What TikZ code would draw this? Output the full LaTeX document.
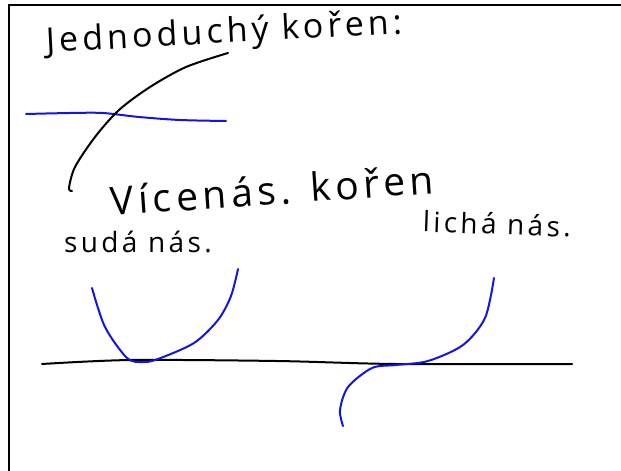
\documentclass[tikz,border=0pt]{standalone}
\usepackage{fontspec}
\setmainfont{Open Sans}
\usepackage{tikz}
\usetikzlibrary{calc}
\usepackage{xcolor}
\definecolor{inkblack}{HTML}{000000}
\definecolor{inkblue}{HTML}{1414E6}

\tikzset{
  hand/.style={font=\fontsize{#1}{#1}\selectfont\addfontfeatures{LetterSpace=12}, text=inkblack, inner sep=0pt},
  pen/.style={line width=2pt, line cap=round, line join=round},
}

\begin{document}
\begin{tikzpicture}[x=1pt, y=-1pt]
  \useasboundingbox (0,0) rectangle (621,471);

  % Page frame
  \draw[line width=2.6pt, inkblack] (9,471) -- (9,5) -- (621,5);

  % Simple root
  \node[hand=34, rotate=3] (simple) at (224,34) {Jednoduchý kořen:};
  \draw[pen, inkblue] plot[smooth] coordinates {(26,114) (70,113) (103,113) (139,117) (180,120) (226,121)};
  \draw[pen, inkblack] plot[smooth] coordinates {(228,53) (186,67) (150,87) (119,110) (95,137) (75,167) (69,188) (72,191)};

  % Multiple root
  \node[hand=39, rotate=4] (multiple) at (272,190) {Vícenás. kořen};
  \node[hand=28] (even) at (138,242) {sudá nás.};
  \node[hand=28, rotate=-2] (odd) at (497,224) {lichá nás.};

  % x axis
  \draw[pen, inkblack] plot[smooth] coordinates {(42,364) (131,360) (277,361) (396,364) (572,364)};

  % Even multiplicity
  \draw[pen, inkblue] plot[smooth] coordinates {(92,288) (105,327) (127,358) (143,362) (158,359) (194,343) (218,320) (231,296) (238,269)};

  % Odd multiplicity
  \draw[pen, inkblue] plot[smooth] coordinates {(343,426) (340,410) (348,387) (372,368) (396,365) (428,361) (463,345) (485,318) (494,278)};
\end{tikzpicture}
\end{document}
